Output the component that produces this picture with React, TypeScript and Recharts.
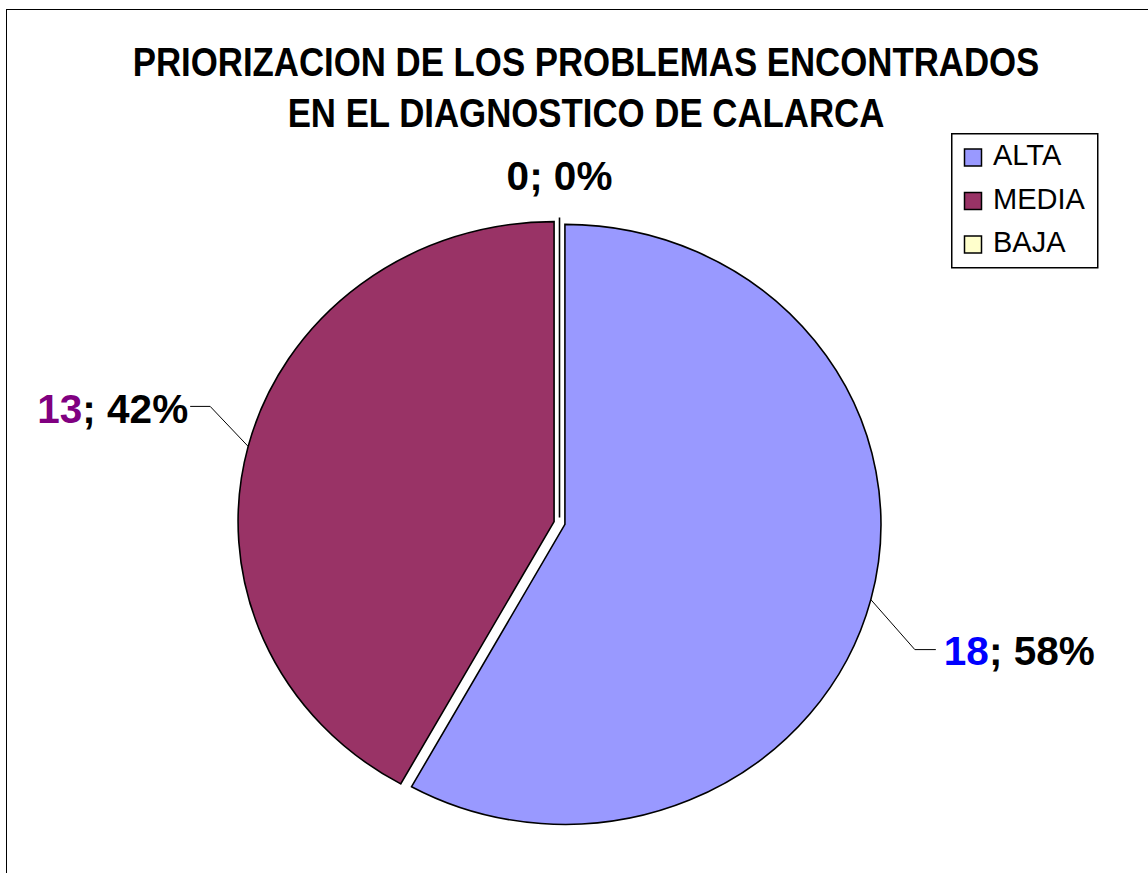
import { PieChart, Pie, Cell, Legend } from 'recharts'

const categories = ['ALTA', 'MEDIA', 'BAJA']
const counts = [18, 13, 0]
const sliceColors = ['#9999FF', '#993366', '#FFFFCC']
const countColors = ['#0000FF', '#800080', '#000000']
const titleLines = ['PRIORIZACION DE LOS PROBLEMAS ENCONTRADOS', 'EN EL DIAGNOSTICO DE CALARCA']

const data = categories.map((name, i) => ({ name, value: counts[i] }))
const total = counts.reduce((a, b) => a + b, 0)

const FONT = '"Liberation Sans", Arial, sans-serif'
const RAD = Math.PI / 180
const STRETCH = 316 / 300 // the pie is a bit wider than tall
const EXPLODE = 5.6

// offsets of each leader line from the slice edge
const LEADERS = [
  { dx: 44, dy: 50, run: 21, anchor: 'start', tx: 8, ty: 15 },
  { dx: -38, dy: -40, run: -20, anchor: 'end', tx: -2, ty: 17 },
  { dx: 0, dy: 0, run: 0, anchor: 'middle', tx: 0, ty: -27 },
]

function centreOf(cx: number, cy: number, mid: number) {
  return [cx + EXPLODE * Math.cos(-mid * RAD), cy + EXPLODE * Math.sin(-mid * RAD)]
}

function edgePoint(ox: number, oy: number, r: number, a: number) {
  return [ox + r * STRETCH * Math.cos(-a * RAD), oy + r * Math.sin(-a * RAD)]
}

function ExplodedSlice(props: any) {
  const { cx, cy, outerRadius, startAngle, endAngle, fill } = props
  const mid = props.midAngle ?? (startAngle + endAngle) / 2
  const [ox, oy] = centreOf(cx, cy, mid)
  const [x1, y1] = edgePoint(ox, oy, outerRadius, startAngle)
  const [x2, y2] = edgePoint(ox, oy, outerRadius, endAngle)
  const sweep = Math.abs(startAngle - endAngle)
  let d: string
  if (sweep < 0.01) {
    d = `M${ox},${oy}L${x1},${y1}`
  } else {
    const large = sweep > 180 ? 1 : 0
    const dir = startAngle > endAngle ? 1 : 0
    d = `M${ox},${oy}L${x1},${y1}A${outerRadius * STRETCH},${outerRadius} 0 ${large} ${dir} ${x2},${y2}Z`
  }
  return <path d={d} fill={fill} stroke="#000" strokeWidth={1.6} strokeLinejoin="miter" />
}

function SliceLabel(props: any) {
  const { cx, cy, outerRadius, midAngle, index, value } = props
  const [ox, oy] = centreOf(cx, cy, midAngle)
  const [sx, sy] = edgePoint(ox, oy, outerRadius, midAngle)
  const L = LEADERS[index]
  const ex = sx + L.dx
  const ey = sy + L.dy
  const pct = total ? Math.round((value / total) * 100) : 0
  return (
    <g>
      {L.run !== 0 && (
        <polyline points={`${sx},${sy} ${ex},${ey} ${ex + L.run},${ey}`}
                  fill="none" stroke="#000" strokeWidth={1} />
      )}
      <text x={ex + L.run + L.tx} y={ey + L.ty} textAnchor={L.anchor as any}
            fontFamily={FONT} fontWeight="bold" fontSize={40.5}>
        <tspan fill={countColors[index]}>{value}</tspan>
        <tspan fill="#000">{`; ${pct}%`}</tspan>
      </text>
    </g>
  )
}

// legend keeps the series order (recharts sorts its payload by name)
function LegendBox() {
  return (
    <svg width={148} height={136}>
      <rect x={0.75} y={0.75} width={146} height={134} fill="#fff" stroke="#000" strokeWidth={1.5} />
      {categories.map((name, i) => (
        <g key={name}>
          <rect x={13.5} y={16 + i * 43.5} width={17} height={17} fill={sliceColors[i]} stroke="#000" strokeWidth={1.5} />
          <text x={42} y={32 + i * 43.5} fontFamily={FONT} fontSize={29} fill="#000">{name}</text>
        </g>
      ))}
    </svg>
  )
}

export default function App() {
  return (
    <div style={{ position: 'absolute', left: 0, top: 0, width: 1148, height: 873, overflow: 'hidden', background: '#fff' }}>
      <div style={{ position: 'absolute', left: 6, top: 9, width: 1200, height: 900, border: '1.5px solid #000' }} />
      <svg width={1148} height={160} style={{ position: 'absolute', left: 0, top: 0 }}>
        {titleLines.map((t, i) => (
          <text key={t} transform={`translate(586,${76 + i * 51}) scale(0.87,1)`} textAnchor="middle"
                fontFamily={FONT} fontWeight="bold" fontSize={40}>{t}</text>
        ))}
      </svg>
      <div style={{ position: 'absolute', left: 0, top: 0 }}>
        <PieChart width={1148} height={873} margin={{ top: 0, right: 0, bottom: 0, left: 0 }}>
          <Pie
            data={data}
            dataKey="value"
            nameKey="name"
            cx={559.5}
            cy={523}
            outerRadius={300}
            startAngle={90}
            endAngle={-270}
            isAnimationActive={false}
            shape={ExplodedSlice}
            activeShape={ExplodedSlice}
            inactiveShape={ExplodedSlice}
            label={SliceLabel}
            labelLine={false}
            minAngle={0}
          >
            {data.map((d, i) => <Cell key={d.name} fill={sliceColors[i]} />)}
          </Pie>
          <Legend
            content={<LegendBox />}
            wrapperStyle={{ position: 'absolute', left: 951, top: 133, width: 148, height: 136 }}
          />
        </PieChart>
      </div>
    </div>
  )
}
